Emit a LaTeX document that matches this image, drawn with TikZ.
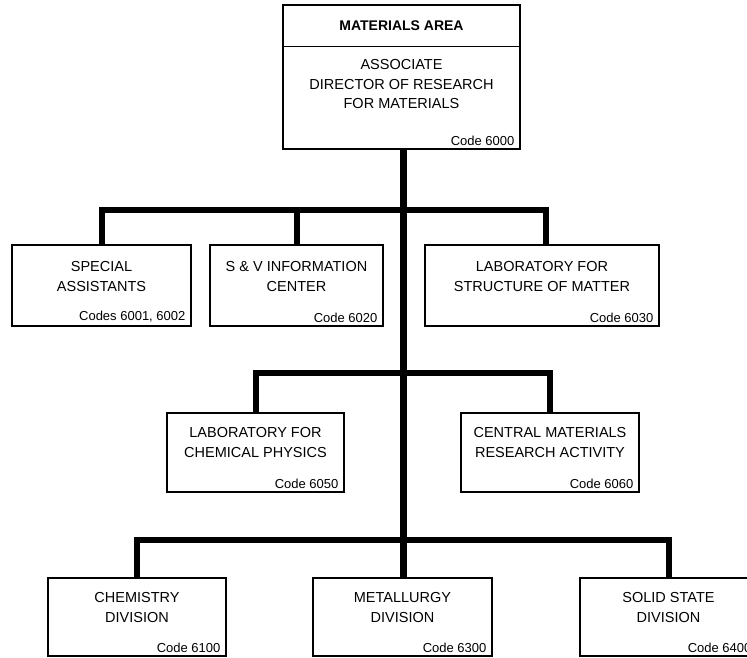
\documentclass[tikz,border=0pt]{standalone}
\usepackage{fontspec}
\setmainfont{Liberation Sans}
\usepackage{tikz}
\usetikzlibrary{positioning}

\begin{document}
\begin{tikzpicture}[x=1pt,y=-1pt,font=\fontsize{14.5}{19.5}\selectfont,
  box/.style={draw,line width=1.2pt,minimum width=178pt,minimum height=80pt,inner sep=0pt},
  txt/.style={align=center,inner sep=0pt},
  code/.style={anchor=south east,font=\fontsize{13}{15}\selectfont,inner sep=0pt,xshift=-6pt,yshift=4pt},
  bus/.style={line width=6pt},
  spine/.style={line width=7pt}]
\path[use as bounding box,clip] (0,0) rectangle (747,657);
% head of the area
\node[box,minimum width=237pt,minimum height=144pt] (top) at (401.5,77) {};
\draw[line width=1.2pt] ([yshift=-42pt]top.north west) -- ([yshift=-42pt]top.north east);
\node[txt,font=\fontsize{14}{19}\selectfont\bfseries] (area) at ([yshift=-21pt]top.north) {MATERIALS AREA};
\node[txt,below=55pt of top.north] (adir) {ASSOCIATE\\DIRECTOR OF RESEARCH\\FOR MATERIALS};
\node[code] (c6000) at (top.south east) {Code 6000};
% staff level
\node[box,minimum width=179pt,minimum height=81pt] (spec) at (101.5,285.5) {};
\node[txt,below=17pt of spec.north] (spect) {SPECIAL\\ASSISTANTS};
\node[code] (c6001) at (spec.south east) {Codes 6001, 6002};
\node[box,minimum width=173pt,minimum height=81pt] (svic) at (296.5,285.5) {};
\node[txt,below=17pt of svic.north] (svict) {S \& V INFORMATION\\CENTER};
\node[code] (c6020) at (svic.south east) {Code 6020};
\node[box,minimum width=234pt,minimum height=81pt] (lsm) at (542,285.5) {};
\node[txt,below=17pt of lsm.north] (lsmt) {LABORATORY FOR\\STRUCTURE OF MATTER};
\node[code] (c6030) at (lsm.south east) {Code 6030};
% laboratories
\node[box,minimum width=177pt,minimum height=79pt] (lcp) at (255.5,452.5) {};
\node[txt,below=15pt of lcp.north] (lcpt) {LABORATORY FOR\\CHEMICAL PHYSICS};
\node[code] (c6050) at (lcp.south east) {Code 6050};
\node[box,minimum width=178pt,minimum height=79pt] (cmra) at (550,452.5) {};
\node[txt,below=15pt of cmra.north] (cmrat) {CENTRAL MATERIALS\\RESEARCH ACTIVITY};
\node[code] (c6060) at (cmra.south east) {Code 6060};
% divisions
\node[box,minimum height=78pt] (chem) at (137,617) {};
\node[txt,below=15pt of chem.north] (chemt) {CHEMISTRY\\DIVISION};
\node[code] (c6100) at (chem.south east) {Code 6100};
\node[box,minimum width=179pt,minimum height=78pt] (metal) at (402.5,617) {};
\node[txt,below=15pt of metal.north] (metalt) {METALLURGY\\DIVISION};
\node[code] (c6300) at (metal.south east) {Code 6300};
\node[box,minimum width=177pt,minimum height=78pt] (ssd) at (668.5,617) {};
\node[txt,below=15pt of ssd.north] (ssdt) {SOLID STATE\\DIVISION};
\node[code] (c6400) at (ssd.south east) {Code 6400};
% lines of authority
\coordinate (b1) at (403,210);
\coordinate (b2) at (403,373);
\coordinate (b3) at (403,540);
\draw[spine] (top.south -| b1) -- (metal.north -| b1);
\draw[bus] (spec.north) |- (b1) -| ([xshift=4pt]lsm.north);
\draw[bus] (svic.north) -- (svic.north |- b1);
\draw[bus] (lcp.north) |- (b2) -| (cmra.north);
\draw[bus] (chem.north) |- (b3) -| (ssd.north);
\end{tikzpicture}
\end{document}
